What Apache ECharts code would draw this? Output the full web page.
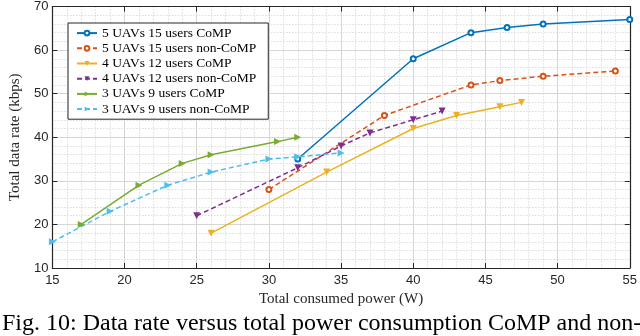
<!DOCTYPE html>
<html>
<head>
<meta charset="utf-8">
<script src="https://cdn.jsdelivr.net/npm/echarts@6/dist/echarts.min.js"></script>
<style>
  html, body { margin: 0; padding: 0; background: #fff; }
  #chart { width: 640px; height: 336px; }
</style>
</head>
<body>
<div id="chart"></div>
<script>
// valeurs
const names = [
  '5 UAVs 15 users CoMP',
  '5 UAVs 15 users non-CoMP',
  '4 UAVs 12 users CoMP',
  '4 UAVs 12 users non-CoMP',
  '3 UAVs 9 users CoMP',
  '3 UAVs 9 users non-CoMP'
];
const power5Comp = [32, 40, 44, 46.5, 49, 55];
const rate5Comp = [35, 58, 64, 65.2, 66, 67];
const power5Non = [30, 38, 44, 46, 49, 54];
const rate5Non = [28, 45, 52, 53, 54, 55.2];
const power4Comp = [26, 34, 40, 43, 46, 47.5];
const rate4Comp = [18, 32, 42, 45, 47, 48];
const power4Non = [25, 32, 35, 37, 40, 42];
const rate4Non = [22, 33, 38, 41, 44, 46];
const power3Comp = [17, 21, 24, 26, 30.6, 32];
const rate3Comp = [20, 29, 34, 36, 39, 40];
const power3Non = [15, 19, 23, 26, 30, 32, 35];
const rate3Non = [16, 23, 29, 32, 35, 35.5, 36.4];

const xTicks = [15, 20, 25, 30, 35, 40, 45, 50, 55];
const yTicks = [10, 20, 30, 40, 50, 60, 70];
const caption = 'Fig. 10: Data rate versus total power consumption CoMP and non-';

const colors = ['#0072BD', '#D95319', '#EDB120', '#7E2F8E', '#77AC30', '#4DBEEE'];
const dash = [5, 3];

function pairs(xs, ys) {
  return xs.map((x, i) => [x, ys[i]]);
}

function serie(idx, xs, ys, dashed, symbol, size, rotate) {
  return {
    name: names[idx],
    type: 'line',
    data: pairs(xs, ys),
    color: colors[idx],
    symbol: symbol,
    symbolSize: size,
    symbolRotate: rotate,
    showAllSymbol: true,
    lineStyle: { width: 1.5, type: dashed ? dash : 'solid' },
    itemStyle: { borderWidth: 1.5 },
    animation: false,
    z: 3
  };
}

const axisColor = '#262626';
const chart = echarts.init(document.getElementById('chart'));

const option = {
  animation: false,
  grid: { left: 49, right: 6, top: 5, bottom: 68 },
  legend: {
    orient: 'vertical',
    left: 68,
    top: 23,
    data: names,
    backgroundColor: '#fff',
    borderColor: axisColor,
    borderWidth: 1,
    padding: [3, 12, 3, 8],
    itemWidth: 20,
    itemHeight: 6,
    itemGap: 1,
    textStyle: { fontFamily: 'Liberation Serif', fontSize: 13.5, color: '#000', lineHeight: 14.2 },
    z: 10
  },
  xAxis: [{
    type: 'value',
    min: xTicks[0],
    max: xTicks[xTicks.length - 1],
    interval: 5,
    name: 'Total consumed power (W)',
    nameLocation: 'middle',
    nameGap: 21,
    nameTextStyle: { fontFamily: 'Liberation Serif', fontSize: 15, color: axisColor },
    axisLine: { lineStyle: { color: axisColor, width: 1.2 } },
    axisTick: { inside: true, length: 5, lineStyle: { color: axisColor } },
    axisLabel: { margin: 6, fontFamily: 'Liberation Sans', fontSize: 13, color: axisColor },
    splitLine: { show: true, lineStyle: { color: '#d6d6d6', width: 1 } },
    minorTick: { show: false, splitNumber: 5 },
    minorSplitLine: { show: true, lineStyle: { color: '#cccccc', width: 1, type: [1, 2] } }
  }, {
    type: 'value',
    position: 'top',
    min: xTicks[0],
    max: xTicks[xTicks.length - 1],
    interval: 5,
    axisLine: { show: true, lineStyle: { color: axisColor, width: 1.2 } },
    axisTick: { inside: true, length: 5, lineStyle: { color: axisColor } },
    axisLabel: { show: false },
    splitLine: { show: false }
  }],
  yAxis: [{
    type: 'value',
    min: yTicks[0],
    max: yTicks[yTicks.length - 1],
    interval: 10,
    name: 'Total data rate (kbps)',
    nameLocation: 'middle',
    nameGap: 21,
    nameTextStyle: { fontFamily: 'Liberation Serif', fontSize: 15, color: axisColor },
    axisLine: { show: true, lineStyle: { color: axisColor, width: 1.2 } },
    axisTick: { show: true, inside: true, length: 5, lineStyle: { color: axisColor } },
    axisLabel: { margin: 4, fontFamily: 'Liberation Sans', fontSize: 13, color: axisColor },
    splitLine: { show: true, lineStyle: { color: '#d6d6d6', width: 1 } },
    minorTick: { show: false, splitNumber: 5 },
    minorSplitLine: { show: true, lineStyle: { color: '#cccccc', width: 1, type: [1, 2] } }
  }, {
    type: 'value',
    position: 'right',
    min: yTicks[0],
    max: yTicks[yTicks.length - 1],
    interval: 10,
    axisLine: { show: true, lineStyle: { color: axisColor, width: 1.2 } },
    axisTick: { show: true, inside: true, length: 5, lineStyle: { color: axisColor } },
    axisLabel: { show: false },
    splitLine: { show: false }
  }],
  graphic: [{
    type: 'text',
    left: 2,
    top: 312,
    style: {
      text: caption,
      fontFamily: 'Liberation Serif',
      fontSize: 24,
      fill: '#000'
    }
  }],
  series: [
    serie(0, power5Comp, rate5Comp, false, 'emptyCircle', 5, 0),
    serie(1, power5Non, rate5Non, true, 'emptyCircle', 5, 0),
    serie(2, power4Comp, rate4Comp, false, 'triangle', 7, 180),
    serie(3, power4Non, rate4Non, true, 'triangle', 7, 180),
    serie(4, power3Comp, rate3Comp, false, 'triangle', 7, -90),
    serie(5, power3Non, rate3Non, true, 'triangle', 7, -90)
  ]
};

chart.setOption(option);
</script>
</body>
</html>
